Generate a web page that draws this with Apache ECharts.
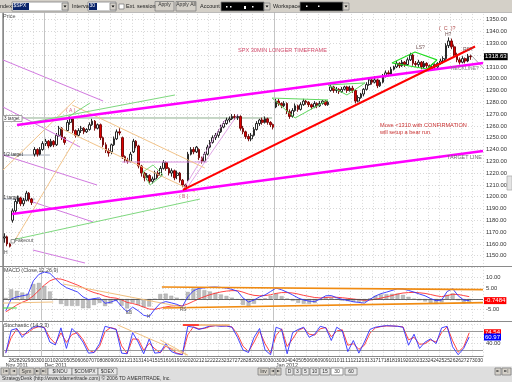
<!DOCTYPE html>
<html><head><meta charset="utf-8">
<script src="https://cdn.jsdelivr.net/npm/echarts/dist/echarts.min.js"></script>
<style>html,body{margin:0;padding:0;background:#fff}#c{width:512px;height:382px}</style>
</head><body><div id="c"></div>
<script>
const FONT = 'Liberation Sans';
// ---- categories ----
const tradingDays = ['28','29','30','01','02','05','06','07','08','09','12','13','14','15','16','19','20','21','22','23','27','28','29','30','03','04','05','06','09','10','11','12','13','17','18','19','20','23','24','25','26','27','30'];
const firstDayLabel = '25';
const firstDaySlots = 3, slotsPerDay = 4;
const monthNames = ['Nov 2011','Dec 2011','Jan 2012'];
const monthStartHalf = [0, 7, 49];
const monthStartSlot = [15, 99];
const priceTicks = [1150,1160,1170,1180,1190,1200,1210,1220,1230,1240,1250,1260,1270,1280,1290,1300,1310,1320,1330,1340,1350];
const macdTicks = [10,5,-5];
const stochTicks = [40];
const stochLevels = [80,20];

// ---- price bars: [open, close, low, high] ----
const priceBars = [
[1165,1166,1161,1169],[1166,1160,1158,1167],[1160,1158,1157,1161],
[1180,1188,1178,1190],[1188,1196,1186,1198],[1196,1199,1194,1201],[1199,1194,1192,1200],
[1194,1197,1192,1199],[1197,1203,1196,1205],[1203,1198,1196,1204],[1198,1195,1193,1199],
[1236,1240,1234,1242],[1240,1236,1234,1241],[1236,1240,1235,1242],[1240,1245,1239,1247],
[1245,1247,1243,1249],[1247,1243,1241,1248],[1243,1247,1242,1249],[1247,1244,1242,1248],
[1244,1252,1243,1254],[1252,1258,1251,1260],[1258,1250,1248,1259],[1250,1246,1244,1251],
[1256,1263,1255,1265],[1263,1266,1261,1268],[1266,1256,1254,1267],[1256,1252,1250,1257],
[1252,1256,1251,1258],[1256,1258,1254,1260],[1258,1255,1253,1259],[1255,1257,1254,1258],
[1257,1261,1256,1263],[1261,1264,1260,1266],[1264,1258,1256,1265],[1258,1261,1257,1262],
[1261,1250,1248,1262],[1250,1244,1242,1251],[1244,1239,1237,1246],[1239,1237,1234,1241],
[1238,1244,1236,1245],[1244,1249,1243,1251],[1249,1255,1248,1257],[1255,1254,1252,1258],
[1250,1234,1232,1251],[1234,1231,1229,1235],[1231,1230,1228,1233],[1230,1236,1229,1238],
[1238,1247,1237,1249],[1247,1243,1241,1248],[1243,1226,1224,1244],[1226,1220,1217,1227],
[1220,1216,1213,1221],[1216,1218,1214,1220],[1218,1213,1211,1219],[1213,1215,1211,1217],
[1215,1220,1214,1222],[1220,1218,1216,1222],[1218,1224,1217,1226],[1224,1229,1223,1231],
[1229,1224,1222,1230],[1224,1220,1218,1225],[1220,1222,1217,1224],[1222,1216,1214,1223],
[1218,1220,1215,1222],[1220,1214,1212,1221],[1214,1210,1208,1215],[1210,1206,1204,1211],
[1214,1236,1213,1238],[1236,1240,1235,1242],[1240,1238,1236,1242],[1238,1242,1237,1243],
[1240,1233,1231,1241],[1233,1230,1228,1234],[1230,1236,1229,1238],[1236,1242,1235,1244],
[1242,1246,1241,1248],[1246,1250,1245,1252],[1250,1252,1248,1254],[1252,1255,1250,1257],
[1255,1259,1254,1261],[1259,1262,1258,1264],[1262,1265,1261,1267],[1265,1266,1263,1268],
[1266,1268,1265,1270],[1268,1267,1265,1270],[1267,1268,1265,1270],[1268,1258,1256,1269],
[1258,1255,1253,1260],[1255,1251,1249,1256],[1251,1249,1247,1253],[1249,1252,1247,1254],
[1252,1257,1251,1259],[1257,1262,1256,1264],[1262,1265,1260,1266],[1265,1263,1261,1267],
[1263,1266,1262,1268],[1266,1263,1261,1267],[1263,1261,1259,1264],[1261,1259,1257,1262],
[1276,1281,1275,1283],[1281,1279,1277,1283],[1279,1277,1275,1280],[1277,1279,1276,1281],
[1279,1272,1270,1280],[1272,1268,1266,1274],[1268,1273,1267,1275],[1273,1277,1272,1279],
[1277,1274,1272,1278],[1274,1278,1273,1280],[1278,1281,1277,1283],[1281,1280,1278,1282],
[1280,1278,1276,1281],[1278,1276,1274,1279],[1276,1279,1275,1281],[1279,1277,1275,1280],
[1277,1279,1276,1281],[1279,1281,1278,1282],[1281,1278,1277,1282],[1278,1280,1277,1281],
[1290,1293,1289,1295],[1293,1290,1288,1294],[1290,1291,1288,1293],[1291,1289,1287,1292],
[1289,1291,1288,1293],[1291,1293,1290,1294],[1293,1290,1288,1294],[1290,1292,1289,1294],
[1292,1290,1288,1294],[1290,1281,1279,1291],[1281,1284,1280,1286],[1284,1287,1283,1288],
[1287,1291,1285,1292],[1291,1295,1290,1297],[1295,1299,1294,1301],[1299,1297,1295,1301],
[1297,1299,1296,1302],[1299,1294,1292,1300],[1294,1297,1293,1299],[1297,1302,1296,1304],
[1302,1305,1301,1307],[1305,1304,1302,1307],[1304,1308,1303,1310],[1308,1310,1307,1311],
[1310,1313,1309,1315],[1313,1311,1309,1314],[1311,1314,1310,1316],[1314,1312,1310,1315],
[1312,1316,1311,1318],[1316,1320,1315,1322],[1320,1313,1311,1321],[1313,1312,1310,1315],
[1312,1314,1310,1316],[1314,1310,1308,1315],[1310,1313,1309,1315],[1313,1311,1309,1314],
[1311,1309,1307,1312],[1309,1312,1308,1313],[1312,1310,1308,1313],[1310,1313,1309,1314],
[1313,1315,1312,1317],[1315,1317,1313,1319],[1317,1328,1316,1330],[1328,1332,1326,1335],
[1332,1327,1325,1334],[1327,1320,1318,1329],[1320,1316,1314,1322],[1316,1314,1312,1318],
[1314,1317,1313,1319],[1317,1315,1313,1318],[1315,1319,1314,1321],[1319,1318.63,1316,1320]
];

// ---- indicators, one value per half day ----
const macdLine = [-5.5,0,1.0,1.5,2.0,8.5,11.5,12.6,12.0,9.5, 7.0,5.3,4.3,3.3,1.0,-0.3,0.2,0.5,-2.0,-1.5, -0.5,-3.5,-6.0,-3.8,-5.5,-7.6,-8.2,-4.8,-2.0,-1.2, -1.8,-2.5,-3.6,1.0,3.8,5.0,5.2,5.5,5.6,5.4, 5.1,4.5,3.6,0.5,-1.4,-0.5,1.0,1.9,3.5,5.1, 4.3,3.2,1.9,0.5,-0.5,-1.0,-1.2,0.0,1.5,1.6, 0.6,-0.2,-0.7,-1.3,-1.6,-1.9,-0.2,1.4,2.5,3.2, 4.0,4.8,4.7,4.0,3.2,2.3,1.5,0.2,-0.8,-0.5, 3.5,4.8,1.5,-0.5,-0.7484];
const macdSignal = [-6,-4.5,-2.8,-1.5,-0.5,1.5,4,6.5,8.5,9.5, 9.3,8.5,7.5,6.5,5.3,4.0,3.0,2.3,1.3,0.7, 0.4,-0.4,-1.6,-2.1,-2.8,-3.8,-4.7,-4.8,-4.3,-3.7, -3.3,-3.1,-3.2,-2.3,-1.1,0.1,1.1,2.0,2.7,3.3, 3.7,3.9,3.9,3.2,2.3,1.7,1.5,1.6,2.0,2.6, 3.0,3.0,2.8,2.3,1.7,1.2,0.7,0.5,0.7,0.9, 0.8,0.6,0.3,0.0,-0.3,-0.6,-0.5,-0.1,0.4,1.0, 1.6,2.3,2.8,3.0,3.1,2.9,2.6,2.1,1.5,1.1, 1.6,2.2,2.1,1.6,1.1];
const macdHist = [0.5,4.5,3.8,3.0,2.5,7.0,7.5,6.1,3.5,0.0, -2.3,-3.2,-3.2,-3.2,-4.3,-4.3,-2.8,-1.8,-3.3,-2.2, -0.9,-3.1,-4.4,-1.7,-2.7,-3.8,-3.5,0.0,2.3,2.5, 1.5,0.6,-0.4,3.3,4.9,4.9,4.1,3.5,2.9,2.1, 1.4,0.6,-0.3,-2.7,-3.7,-2.2,-0.5,0.3,1.5,2.5, 1.3,0.2,-0.9,-1.8,-2.2,-2.2,-1.9,-0.5,0.8,0.7, -0.2,-0.8,-1.0,-1.3,-1.3,-1.3,0.3,1.5,2.1,2.2, 2.4,2.5,1.9,1.0,0.1,-0.6,-1.1,-1.9,-2.3,-1.6, 1.9,2.6,-0.6,-2.1,-1.85];
const stochBlue = [10,83,88,60,80,92,95,90,45,36, 90,25,88,70,45,10,12,40,95,90, 85,10,8,75,45,8,55,10,12,40, 15,8,5,95,92,85,90,96,97,95, 96,92,60,20,12,60,88,20,5,92, 85,8,75,85,92,60,70,95,90,50, 92,80,15,50,10,45,85,92,95,97, 96,95,92,35,70,25,45,55,40,90, 95,30,5,25,60.97];
const stochRed = [12,60,86,68,74,88,94,91,58,40, 74,44,69,75,53,20,12,31,78,91, 86,33,9,55,54,19,41,24,11,32, 23,10,6,68,93,87,88,94,97,96, 96,93,70,32,15,45,80,40,10,66, 87,31,55,82,90,70,67,87,91,62, 80,84,35,40,22,35,73,90,94,96, 96,95,93,52,60,38,40,52,45,75, 93,49,13,30,74.54];

// ---- drawn studies (x in bar slots, y in price) ----
const channelTop = [[5.1,1260.8],[175,1313.3]];
const channelBottom = [[3.3,1185.3],[175,1238.7]];
const trendFromB = [[65.6,1205.7],[172.1,1327.3]];
const greenFan1 = [[5.1,1260.8],[62.7,1286.2]];
const greenFan2 = [[3.3,1163.3],[71.8,1198.0]];
const greenA = [[22.6,1265.8],[31.7,1279.4]];
const target3 = [[0,1266.7],[98.1,1266.7]];
const targetHalf = [[0,1235.3],[17.1,1235.3]];
const target1 = [[0,1198.0],[11.7,1198.0]];
const violet1 = [[0,1315.9],[36.5,1281.1]];
const violet2 = [[0,1276.0],[28.1,1242.1]];
const violet3 = [[0,1235.3],[34.3,1209.9]];
const violet4 = [[10.9,1195.5],[32.8,1178.6]];
const violet5 = [[10.9,1154.8],[29.9,1143.8]];
const violetFlat = [[43.4,1229.4],[74.4,1229.4]];
const violetB1 = [[65.6,1205.7],[80.9,1265.0]];
const violetB2 = [[67.1,1207.4],[85.7,1270.1]];
const tan1 = [[25.2,1277.7],[73.6,1224.3]];
const tan2 = [[20.8,1258.2],[70.0,1204.0]];
const tan3 = [[0,1222.6],[26.2,1281.9]];
const tan4 = [[4.4,1163.3],[26.2,1248.0]];
const triJan = [[98.1,1283.6],[118.5,1282.0],[106.5,1266.7],[98.1,1283.6]];
const triJan2 = [[118.5,1294.7],[132.0,1296.4],[125.4,1286.2],[118.5,1294.7]];
const diamondHS = [[141.8,1313.3],[150.2,1322.6],[158.2,1315.9],[154.6,1308.2],[141.8,1313.3]];
const diamondDec = [[51.0,1220.9],[54.7,1226.9],[58.3,1218.4],[53.6,1209.9],[51.0,1220.9]];
const projection = [[170.3,1320.9],[177.5,1303.1]];
// indicator studies (x in half days)
const macdUpper = [[28.8,5.6],[87,4.4]];
const macdLower = [[29.0,-4.2],[87,-1.7]];
const macdTan1 = [[10.9,7.0],[33.4,-4.2]];
const macdTan2 = [[0,-1.9],[9.1,-1.4]];
const macdGreen = [[0,-4.2],[2.5,-4.2]];
const stochTan1 = [[20.8,99],[33.4,4]];
const stochTan2 = [[28.5,51.6],[33.5,4]];
const stochTop = [[32.6,99],[41.1,99]];
const stochTopRed = [[32.6,99],[35.5,99]];

// ---- build categories ----
const priceCats = [];
for (let i = 0; i < firstDaySlots; i++) priceCats.push(firstDayLabel);
tradingDays.forEach(d => { for (let k = 0; k < slotsPerDay; k++) priceCats.push(d); });
const halfCats = [firstDayLabel];
tradingDays.forEach(d => { halfCats.push(d, d); });

const chart = echarts.init(document.getElementById('c'), null, {renderer: 'canvas'});

function trend(data, color, width, xi, yi, z) {
  return {type: 'line', data: data, xAxisIndex: xi, yAxisIndex: yi, symbol: 'none', showSymbol: false,
    silent: true, clip: true, animation: false, z: z || 4, lineStyle: {color: color, width: width}};
}
const dotted = {show: true, lineStyle: {color: '#d8d8d8', type: [1, 2], width: 1}};
const daySplit = (i) => i >= firstDaySlots && (i - firstDaySlots) % slotsPerDay === 0;
const halfSplit = (i) => i >= 1 && (i - 1) % 2 === 0;
function valueBox(v, text, bg) {
  return {yAxis: v, lineStyle: {color: 'rgba(0,0,0,0)', width: 0.1, type: 'solid'},
    label: {show: true, position: 'end', distance: 1, formatter: text, opacity: 1,
      backgroundColor: bg, color: '#fff', fontSize: 6, fontFamily: FONT, padding: [1, 1, 0, 1]}};
}

// graphic helpers
function txt(x, y, s, o) {
  o = o || {};
  return {type: 'text', x: x, y: y, z: o.z || 50, silent: true,
    style: {text: s, fill: o.color || '#333', fontSize: o.size || 5.5, fontFamily: o.font || FONT,
      verticalAlign: 'top', align: o.align || 'left'}};
}
function rect(x, y, w, h, fill, stroke, z) {
  return {type: 'rect', z: z || 60, silent: true, shape: {x: x, y: y, width: w, height: h},
    style: {fill: fill, stroke: stroke || null, lineWidth: stroke ? 0.8 : 0}};
}
function gline(x1, y1, x2, y2, c, w, z) {
  return {type: 'line', z: z || 40, silent: true, shape: {x1: x1, y1: y1, x2: x2, y2: y2}, style: {stroke: c, lineWidth: w || 1}};
}
function button(x, y, w, h, s, o) {
  o = o || {};
  return [rect(x, y, w, h, o.fill || '#d4d0c8', '#808080', 101),
    txt(x + w / 2, y + 1, s, {size: o.size || 5, align: 'center', z: 102, font: o.font, color: o.color})];
}
function dropdown(x, y) {
  return [rect(x, y, 6, 7, '#d4d0c8', '#808080', 103),
    {type: 'polygon', z: 104, silent: true, shape: {points: [[x + 1.5, y + 2.5], [x + 4.5, y + 2.5], [x + 3, y + 4.5]]}, style: {fill: '#000'}}];
}

const g = [];
// toolbar
g.push(rect(0, 0, 512, 12.5, '#d4d0c8', null, 100));
g.push(txt(0, 3, 'ndex', {size: 5.5, z: 102, color: '#222'}));
g.push(rect(12, 2, 56, 9, '#fff', '#808080', 101));
g.push(rect(13, 3, 16, 7, '#0a246a', null, 102));
g.push(txt(13.5, 3.5, '$SPX', {size: 5, z: 103, color: '#fff'}));
g.push(...dropdown(62, 3));
g.push(txt(72, 3, 'Interval', {size: 5.5, z: 102, color: '#222'}));
g.push(rect(88, 2, 28, 9, '#fff', '#808080', 101));
g.push(rect(89, 3, 8, 7, '#0a246a', null, 102));
g.push(txt(89.5, 3.5, '30', {size: 5, z: 103, color: '#fff'}));
g.push(...dropdown(110, 3));
g.push(rect(119, 4, 5, 5, '#fff', '#808080', 101));
g.push(txt(126, 3, 'Ext. session', {size: 5.5, z: 102, color: '#222'}));
g.push(...button(155, 1.5, 19, 9.5, 'Apply'));
g.push(...button(176, 1.5, 20, 9.5, 'Apply All'));
g.push(txt(200, 3, 'Account', {size: 5.5, z: 102, color: '#222'}));
g.push(rect(221, 2, 43, 9, '#000', '#808080', 101));
[226, 230, 244, 252].forEach((x, i) => g.push(rect(x, 6, i === 2 ? 2 : 1.5, i === 2 ? 3 : 1.5, '#fff', null, 102)));
g.push(...dropdown(264, 3));
g.push(txt(273, 3, 'Workspace', {size: 5.5, z: 102, color: '#222'}));
g.push(rect(300, 2, 43, 9, '#000', '#808080', 101));
[306, 318].forEach(x => g.push(rect(x, 5.5, 1.5, 1.5, '#fff', null, 102)));
g.push(...dropdown(343, 3));
g.push(gline(0, 12.5, 512, 12.5, '#b0b0b0', 0.8, 100));
// frame / separators
g.push(gline(2.5, 12.5, 2.5, 357, '#a8a8a8', 1, 40));
g.push(gline(0, 266.5, 512, 266.5, '#8a8a8a', 1, 45));
g.push(gline(0, 321.5, 512, 321.5, '#8a8a8a', 1, 45));
g.push(rect(507, 176, 5, 14, '#e4e4e4', '#b0b0b0', 45));
// bottom bar
g.push(rect(0, 366.5, 512, 15.5, '#dedede', null, 100));
[[1, 8, '|\u25C4'], [10, 7, '\u25C4'], [35, 5, '\u25BA'], [41, 7, '\u25BA|']].forEach(b => g.push(...button(b[0], 368, b[1], 7, b[2], {size: 4, font: 'DejaVu Sans'})));
g.push(...button(19, 368, 15, 7, 'Sym', {size: 5}));
[[48, 24, '$INDU'], [72, 26, '$COMPX'], [98, 19, '$OEX']].forEach(b => g.push(...button(b[0], 368, b[1], 7, b[2], {size: 5, fill: '#e8e8e8'})));
g.push(txt(2, 376.5, 'StrategyDesk (http://www.tdameritrade.com) \u00A9 2006 TD AMERITRADE, Inc.', {size: 5, z: 102, color: '#333'}));
g.push(...button(258, 368, 11, 7, 'Inv', {size: 5}));
g.push(...button(270, 368, 5, 7, '\u25C4', {size: 4, font: 'DejaVu Sans'}));
g.push(...button(276, 368, 5, 7, '\u25BA', {size: 4, font: 'DejaVu Sans'}));
[[286, 7, 'D'], [294, 7, '3'], [302, 7, '5'], [310, 9, '10'], [320, 10, '15'], [331, 12, '30'], [345, 12, '60']].forEach(b =>
  g.push(...button(b[0], 368, b[1], 7, b[2], {size: 5, fill: b[2] === '30' ? '#ffffff' : '#e8e8e8'})));
g.push(...button(495, 368, 6, 7, '\u25BA', {size: 4, font: 'DejaVu Sans'}));
g.push(...button(502, 368, 9, 7, '\u25BA|', {size: 4, font: 'DejaVu Sans'}));
// annotations
g.push(txt(3, 13, 'Price', {size: 5.5, color: '#555'}));
g.push(txt(238, 47.5, 'SPX 30MIN LONGER TIMEFRAME', {size: 5.6, color: '#d04a6a'}));
g.push(txt(380, 122, 'Move <1310 with CONFIRMATION', {size: 5.6, color: '#c83030'}));
g.push(txt(380, 129.5, 'will setup a bear run.', {size: 5.6, color: '#c83030'}));
g.push(txt(447, 155.5, 'TARGET LINE', {size: 5.4, color: '#707070'}));
g.push(txt(439, 26, '(  C  )?', {size: 5.4, color: '#b04a4a'}));
g.push(txt(445, 32, 'H?', {size: 5, color: '#705050'}));
g.push(txt(416, 45.5, 'LS?', {size: 5, color: '#705050'}));
g.push(txt(463, 47, 'RS?', {size: 5, color: '#705050'}));
g.push(txt(451, 66.5, 'NECKLINE?', {size: 5, color: '#808080'}));
g.push(txt(66, 108.5, '( A )', {size: 5, color: '#d06080'}));
g.push(txt(179, 194, '( B )', {size: 5, color: '#d06080'}));
g.push(rect(3, 115.5, 19, 6, '#fff', '#909090', 48));
g.push(txt(4, 116, '3 target', {size: 4.6, color: '#333'}));
g.push(txt(3.5, 152, '1/2 target', {size: 4.6, color: '#333'}));
g.push(txt(3.5, 195.5, '1 target', {size: 4.6, color: '#333'}));
g.push(rect(11, 239.5, 3.5, 3.5, '#fff', '#808080', 48));
g.push(txt(15, 238.5, 'Fakeout', {size: 5, color: '#555'}));
g.push(txt(4, 250, 'H', {size: 5, color: '#555'}));
g.push(txt(4, 268.3, 'MACD (Close,12,26,9)', {size: 5.4, color: '#444'}));
g.push(txt(126, 310.5, 'EB', {size: 4.6, color: '#555'}));
g.push(txt(147, 314.5, 'H', {size: 4.6, color: '#555'}));
g.push(txt(180, 307.5, 'RS', {size: 4.6, color: '#555'}));
g.push(txt(4, 323, 'Stochastic (14,3,3)', {size: 5.4, color: '#444'}));

const lastClose = priceBars[priceBars.length - 1][1];
const lastMacd = macdLine[macdLine.length - 1];
const lastRed = stochRed[stochRed.length - 1];
const lastBlue = stochBlue[stochBlue.length - 1];

const monthSep = {symbol: 'none', silent: true, animation: false, label: {show: false}, lineStyle: {color: '#c4c4c4', type: 'solid', width: 1}};
function boxSeries(data, xi, yi, xAxisData) {
  // an empty helper line that only carries value boxes on the right axis
  return {type: 'line', xAxisIndex: xi, yAxisIndex: yi, data: [], symbol: 'none', silent: true, z: 20,
    markLine: {symbol: 'none', silent: true, animation: false, z: 20, data: data}};
}

const option = {
  animation: false,
  backgroundColor: '#ffffff',
  textStyle: {fontFamily: FONT},
  grid: [
    {left: 3, right: 29, top: 7.9, bottom: 114.5, outerBoundsMode: 'none'},
    {left: 3, right: 29, top: 266.9, bottom: 61.6, outerBoundsMode: 'none'},
    {left: 3, right: 29, top: 324.7, bottom: 25.7, outerBoundsMode: 'none'}
  ],
  xAxis: [
    {type: 'category', gridIndex: 0, data: priceCats, boundaryGap: true, axisLine: {show: false}, axisTick: {show: false}, axisLabel: {show: false},
      splitLine: Object.assign({interval: daySplit}, dotted)},
    {type: 'value', gridIndex: 0, min: 0, max: priceCats.length, show: false},
    {type: 'category', gridIndex: 1, data: halfCats, boundaryGap: true, axisLine: {show: false}, axisTick: {show: false}, axisLabel: {show: false},
      splitLine: Object.assign({interval: halfSplit}, dotted)},
    {type: 'value', gridIndex: 1, min: 0, max: halfCats.length, show: false},
    {type: 'category', gridIndex: 2, data: halfCats, boundaryGap: true, position: 'bottom',
      axisLine: {show: true, lineStyle: {color: '#8a8a8a', width: 1}}, axisTick: {show: false},
      axisLabel: {interval: 0, hideOverlap: false, margin: 1.5, fontSize: 5, color: '#333', fontFamily: FONT,
        formatter: (v, i) => i === 0 ? '' : v},
      splitLine: Object.assign({interval: halfSplit}, dotted)},
    {type: 'category', gridIndex: 2, data: halfCats, boundaryGap: true, position: 'bottom', offset: 5.5,
      axisLine: {show: false}, axisTick: {show: false},
      axisLabel: {interval: 0, hideOverlap: false, margin: 1.5, fontSize: 5.3, color: '#333', fontFamily: FONT, align: 'left',
        formatter: (v, i) => { const k = monthStartHalf.indexOf(i); return k >= 0 ? monthNames[k] : ''; }}},
    {type: 'value', gridIndex: 2, min: 0, max: halfCats.length, show: false}
  ],
  yAxis: [
    {type: 'value', gridIndex: 0, position: 'right', min: 1140, max: 1360, interval: 10,
      axisLine: {show: true, lineStyle: {color: '#8a8a8a'}}, axisTick: {show: false},
      axisLabel: {margin: 3, fontSize: 5.8, color: '#333', fontFamily: FONT, formatter: v => priceTicks.indexOf(v) >= 0 ? v.toFixed(2) : ''},
      splitLine: dotted},
    {type: 'value', gridIndex: 1, position: 'right', min: -10, max: 15, interval: 5,
      axisLine: {show: true, lineStyle: {color: '#8a8a8a'}}, axisTick: {show: false},
      axisLabel: {margin: 3, fontSize: 5.8, color: '#333', fontFamily: FONT, formatter: v => macdTicks.indexOf(v) >= 0 ? v.toFixed(2) : ''},
      splitLine: dotted},
    {type: 'value', gridIndex: 2, position: 'right', min: 0, max: 100, interval: 20,
      axisLine: {show: true, lineStyle: {color: '#8a8a8a'}}, axisTick: {show: false},
      axisLabel: {margin: 3, fontSize: 5.8, color: '#333', fontFamily: FONT, formatter: v => stochTicks.indexOf(v) >= 0 ? v.toFixed(2) : ''},
      splitLine: dotted}
  ],
  series: [
    {type: 'candlestick', xAxisIndex: 0, yAxisIndex: 0, data: priceBars, barWidth: 2.2, z: 3, silent: true,
      itemStyle: {color: '#ffffff', color0: '#e00000', borderColor: '#111111', borderColor0: '#700000', borderWidth: 0.9}},
    boxSeries([valueBox(lastClose, lastClose.toFixed(2), '#000000')], 1, 0),
    Object.assign(trend(target3, '#8fb08f', 1, 1, 0, 2), {markLine: Object.assign({data: monthStartSlot.map(s => ({xAxis: s}))}, monthSep)}),
    trend(targetHalf, '#8a94a8', 0.8, 1, 0, 2),
    trend(target1, '#8a94a8', 0.8, 1, 0, 2),
    trend(violet1, '#d27ae0', 1, 1, 0),
    trend(violet2, '#d27ae0', 1, 1, 0),
    trend(violet3, '#d27ae0', 1, 1, 0),
    trend(violet4, '#d27ae0', 1, 1, 0),
    trend(violet5, '#d27ae0', 1, 1, 0),
    trend(violetFlat, '#d890e0', 1, 1, 0),
    trend(violetB1, '#d890e0', 0.8, 1, 0),
    trend(violetB2, '#d890e0', 0.8, 1, 0),
    trend(tan1, '#f2c48a', 1, 1, 0),
    trend(tan2, '#f2c48a', 1, 1, 0),
    trend(tan3, '#f2c48a', 1, 1, 0),
    trend(tan4, '#f2c48a', 1, 1, 0),
    trend(greenFan1, '#7ed87e', 1, 1, 0),
    trend(greenFan2, '#7ed87e', 1, 1, 0),
    trend(greenA, '#7ed87e', 1, 1, 0),
    trend(diamondDec, '#7ed87e', 1, 1, 0),
    trend(triJan, '#5fd85f', 1, 1, 0),
    trend(triJan2, '#5fd85f', 1, 1, 0),
    trend(diamondHS, '#22dd22', 1.2, 1, 0),
    trend(projection, '#909090', 0.8, 1, 0),
    trend(channelTop, '#ff00ff', 2.6, 1, 0, 6),
    trend(channelBottom, '#ff00ff', 2.6, 1, 0, 6),
    trend(trendFromB, '#ff0000', 2, 1, 0, 6),
    // MACD panel
    {type: 'bar', xAxisIndex: 2, yAxisIndex: 1, data: macdHist, barWidth: '70%', silent: true, z: 2,
      itemStyle: {color: '#bdbdbd', borderColor: '#8a8a8a', borderWidth: 0.3},
      markLine: {symbol: 'none', silent: true, animation: false, data: [
        {yAxis: 0, lineStyle: {color: '#444', width: 0.8, type: 'solid'}, label: {show: false}}]}},
    {type: 'line', xAxisIndex: 2, yAxisIndex: 1, data: macdSignal, symbol: 'none', silent: true, z: 4, lineStyle: {color: '#ff3030', width: 0.9}},
    {type: 'line', xAxisIndex: 2, yAxisIndex: 1, data: macdLine, symbol: 'none', silent: true, z: 5, lineStyle: {color: '#3030ff', width: 0.9}},
    boxSeries([valueBox(lastMacd, String(lastMacd), '#ff0000')], 3, 1),
    Object.assign(trend(macdUpper, '#f08a10', 1.6, 3, 1, 6), {markLine: Object.assign({data: monthStartHalf.slice(1).map(s => ({xAxis: s}))}, monthSep)}),
    trend(macdLower, '#f08a10', 1.6, 3, 1, 6),
    trend(macdTan1, '#f0c080', 1, 3, 1, 6),
    trend(macdTan2, '#f0c080', 1, 3, 1, 6),
    trend(macdGreen, '#40dd40', 1, 3, 1, 6),
    // Stochastic panel
    {type: 'line', xAxisIndex: 4, yAxisIndex: 2, data: stochRed, symbol: 'none', silent: true, z: 4, lineStyle: {color: '#ff3030', width: 0.9}},
    {type: 'line', xAxisIndex: 4, yAxisIndex: 2, data: stochBlue, symbol: 'none', silent: true, z: 5, lineStyle: {color: '#3030ff', width: 0.9},
      markLine: {symbol: 'none', silent: true, animation: false, data: stochLevels.map(v => ({yAxis: v, lineStyle: {color: '#9a9a9a', width: 1, type: 'solid'}, label: {show: false}}))}},
    boxSeries([valueBox(lastRed, lastRed.toFixed(2), '#ff0000'), valueBox(lastBlue, lastBlue.toFixed(2), '#0000ff')], 6, 2),
    Object.assign(trend(stochTan1, '#f0c080', 1, 6, 2, 6), {markLine: Object.assign({data: monthStartHalf.slice(1).map(s => ({xAxis: s}))}, monthSep)}),
    trend(stochTan2, '#f0c080', 1, 6, 2, 6),
    trend(stochTop, '#f0b070', 1.4, 6, 2, 6),
    trend(stochTopRed, '#ff2020', 1.6, 6, 2, 7)
  ],
  graphic: g
};
chart.setOption(option);
</script>
</body></html>
